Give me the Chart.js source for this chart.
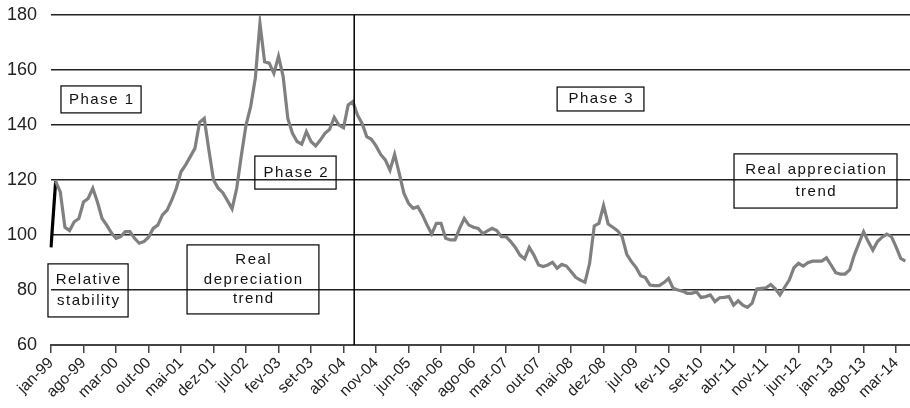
<!DOCTYPE html>
<html>
<head>
<meta charset="utf-8">
<script src="https://cdn.jsdelivr.net/npm/chart.js@4/dist/chart.umd.min.js"></script>
<style>
  html, body { margin: 0; padding: 0; background: #fff; }
</style>
</head>
<body>
<canvas id="rer-chart" width="910" height="408"></canvas>
<script>
const monthNames = ['jan', 'fev', 'mar', 'abr', 'mai', 'jun', 'jul', 'ago', 'set', 'out', 'nov', 'dez'];
const firstYear = 1999;
const monthCount = 186; // jan-99 .. jun-14, last month has no value
const labelEvery = 7;

const categories = [];
for (let i = 0; i < monthCount; i++) {
  const yy = String((firstYear + Math.floor(i / 12)) % 100).padStart(2, '0');
  categories.push(monthNames[i % 12] + '-' + yy);
}

// real exchange rate index (jan-99 .. mai-14)
const exchangeRate = [
  95.5, 119.5, 115.7, 102.8, 101.6, 104.8, 106, 112, 113.3, 117,
  112, 106, 103.6, 100.8, 98.8, 99.4, 101.2, 101.2, 98.8, 97,
  97.6, 99.2, 102.4, 103.6, 107.3, 109, 112.7, 117, 123, 125.5,
  128.5, 131.5, 141, 142.4, 130.9, 120, 117, 115.4, 112.5, 109.5,
  117, 129, 140, 146.7, 157, 177, 163, 162.5, 158.8, 165,
  157.6, 142.4, 137, 134, 133, 137.6, 134, 132.4, 134.5, 137,
  138.4, 142.8, 140, 139, 147.3, 148.5, 143.6, 140.6, 135.8, 134.8,
  132.4, 129.3, 127.3, 123.6, 129.3, 122.4, 115.2, 111.5, 109.7, 110.3,
  107.3, 103.6, 100.4, 104.2, 104.2, 98.8, 98.2, 98.2, 102.4, 106,
  103.6, 102.8, 102.4, 100.5, 101.5, 102.4, 101.6, 99.4, 99.4, 97.6,
  95.5, 92.7, 91.3, 95.5, 92.7, 89.1, 88.5, 89.1, 90.1, 87.9,
  89.3, 88.7, 86.7, 84.6, 83.6, 82.8, 89.7, 103.3, 104.2, 110.7,
  104, 102.8, 101.6, 99.4, 93, 90.3, 88.2, 85.2, 84.5, 81.8,
  81.6, 81.6, 82.7, 84.2, 80.6, 80, 79.6, 78.8, 78.8, 79.4,
  77.3, 77.6, 78.2, 75.8, 77.2, 77.3, 77.6, 74.5, 76.1, 74.5,
  73.7, 75.2, 80.4, 80.6, 80.8, 82, 80.4, 78.2, 81, 83.6,
  88.1, 89.7, 88.7, 89.9, 90.5, 90.5, 90.5, 91.7, 89.1, 86.3,
  85.8, 85.8, 87.3, 92.7, 97, 101.2, 97.6, 94.5, 97.6, 99.2,
  100.3, 99.4, 95.7, 91.5, 90.5
];

const yMin = 60, yMax = 180, yStep = 20;
const phaseBreak = 65.3; // between jun-04 and jul-04

// text boxes, in axis units (month index / index value)
const notes = [
  { text: ['Phase 1'], x1: 2.15, x2: 19.4, y1: 154.2, y2: 144.4 },
  { text: ['Phase 2'], x1: 43.9, x2: 61.4, y1: 128.7, y2: 116.7 },
  { text: ['Phase 3'], x1: 109, x2: 127.7, y1: 153.8, y2: 145.1 },
  { text: ['Real appreciation', 'trend'], x1: 147.1, x2: 182.2, y1: 129.5, y2: 109.8 },
  { text: ['Relative', 'stability'], x1: -0.65, x2: 16.6, y1: 89.5, y2: 70.2 },
  { text: ['Real', 'depreciation', 'trend'], x1: 29.3, x2: 57.7, y1: 96.4, y2: 71.3 }
];

const FONT = '"Liberation Sans", Arial, sans-serif';

const phaseNotes = {
  id: 'phaseNotes',
  afterDatasetsDraw(chart) {
    const { ctx, chartArea, scales: { x, y } } = chart;
    ctx.save();
    const bx = x.getPixelForValue(phaseBreak);
    ctx.strokeStyle = '#000';
    ctx.lineWidth = 1.5;
    ctx.beginPath();
    ctx.moveTo(bx, chartArea.top);
    ctx.lineTo(bx, chartArea.bottom);
    ctx.stroke();

    ctx.font = '15px ' + FONT;
    ctx.letterSpacing = '1.5px';
    ctx.textAlign = 'center';
    ctx.textBaseline = 'middle';
    ctx.fillStyle = '#111';
    ctx.lineWidth = 1.2;
    notes.forEach(n => {
      const left = x.getPixelForValue(n.x1), right = x.getPixelForValue(n.x2);
      const top = y.getPixelForValue(n.y1), bottom = y.getPixelForValue(n.y2);
      ctx.strokeRect(left, top, right - left, bottom - top);
      const cx = (left + right) / 2 + 0.75;
      const lh = (bottom - top) / (n.text.length + 0.5);
      const start = (top + bottom) / 2 - lh * (n.text.length - 1) / 2;
      n.text.forEach((t, i) => ctx.fillText(t, cx, start + i * lh));
    });
    ctx.restore();
  }
};

new Chart(document.getElementById('rer-chart'), {
  type: 'line',
  data: {
    labels: categories,
    datasets: [{
      data: exchangeRate,
      borderColor: '#808080',
      borderWidth: 3.2,
      pointRadius: 0,
      tension: 0,
      segment: { borderColor: c => c.p0DataIndex === 0 ? '#000' : undefined }
    }]
  },
  options: {
    responsive: false,
    animation: false,
    layout: { padding: { top: 15, right: 0, bottom: 0, left: 0 } },
    plugins: { legend: { display: false }, tooltip: { enabled: false } },
    scales: {
      x: {
        offset: false,
        afterBuildTicks: s => { s.ticks = s.ticks.filter(t => t.value % labelEvery === 0); },
        afterFit: s => { s.height = 63; s.paddingLeft = 0; s.paddingRight = 0; },
        ticks: { autoSkip: false, minRotation: 45, maxRotation: 45, padding: 1, color: '#222', font: { family: FONT, size: 15.5 } },
        grid: { drawOnChartArea: false, tickLength: 8, color: '#444', lineWidth: 1.5 },
        border: { color: '#444', width: 2 }
      },
      y: {
        min: yMin,
        max: yMax,
        afterFit: s => { s.width = 51; s.paddingTop = 0; s.paddingBottom = 0; },
        ticks: { stepSize: yStep, padding: 14, color: '#222', font: { family: FONT, size: 18 } },
        grid: { color: '#222', lineWidth: 1.5, drawTicks: false },
        border: { display: false }
      }
    }
  },
  plugins: [phaseNotes]
});
</script>
</body>
</html>
